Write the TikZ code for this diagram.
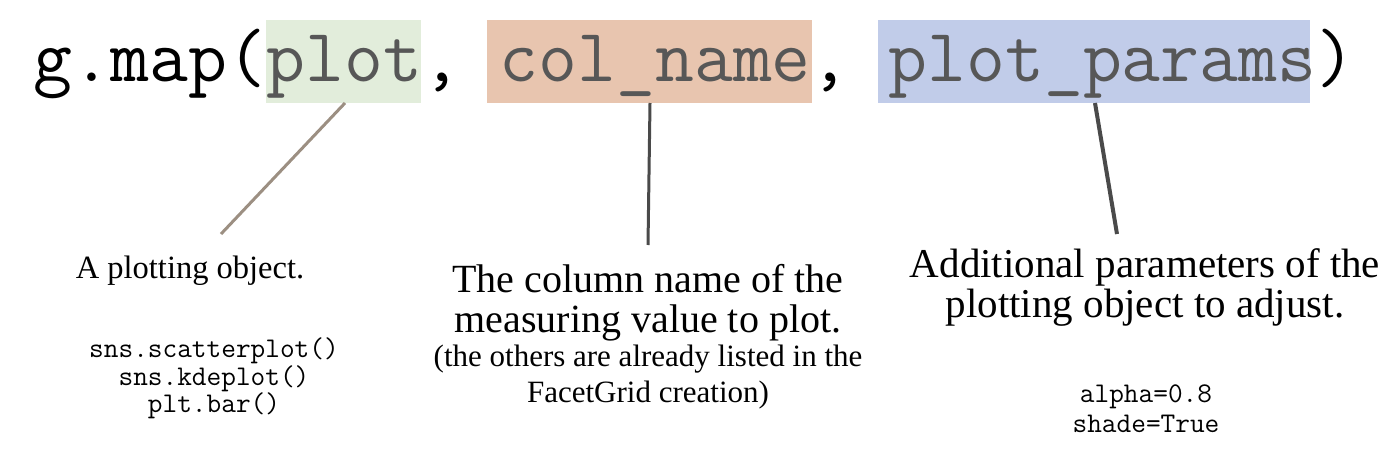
\documentclass[tikz,border=0pt]{standalone}
\usepackage{fontspec}
\setmainfont{Liberation Serif}
\newfontfamily\codefont{Latin Modern Mono}
\definecolor{boxgreen}{HTML}{E2EDDB}
\definecolor{boxorange}{HTML}{E8C5AF}
\definecolor{boxblue}{HTML}{C1CCE9}
\definecolor{codegray}{HTML}{575757}
\definecolor{lineGreen}{HTML}{9C8F82}
\definecolor{lineDark}{HTML}{4A4A4A}
\begin{document}
\begin{tikzpicture}[x=1pt,y=-1pt,
  hlbox/.style={draw=none,inner sep=0,anchor=north west},
  bigcode/.style={inner sep=0,anchor=base west,font=\codefont\fontsize{75.5}{75.5}\selectfont},
  smallcode/.style={inner sep=0,anchor=base,font=\codefont\fontsize{28.5}{28.5}\selectfont},
  desc/.style={inner sep=0,anchor=base,font=\fontsize{40}{40}\selectfont},
  note/.style={inner sep=0,anchor=base,font=\fontsize{31}{31}\selectfont},
  pointer/.style={line width=3pt}
]
\useasboundingbox (0,0) rectangle (1400,455);
% highlight boxes
\node[hlbox,fill=boxgreen,minimum width=155pt,minimum height=83pt] (plotbox) at (266,20) {};
\node[hlbox,fill=boxorange,minimum width=325pt,minimum height=83pt] (colbox) at (487,20) {};
\node[hlbox,fill=boxblue,minimum width=432pt,minimum height=83pt] (parbox) at (878,20) {};
% code line
\node[bigcode] (code) at (33,81) {g.map(\textcolor{codegray}{plot}, \textcolor{codegray}{col\_name}, \textcolor{codegray}{plot\_params})};
% pointer end points
\coordinate (p1s) at (345,103);
\coordinate (p1e) at (221,234);
\coordinate (p2s) at (650,103);
\coordinate (p2e) at (648,245);
\coordinate (p3s) at (1095,103);
\coordinate (p3e) at (1117,234);
\draw[pointer,lineGreen] (p1s) -- (p1e);
\draw[pointer,lineDark] (p2s) -- (p2e);
\draw[pointer,lineDark,line width=4pt] (p3s) -- (p3e);
% descriptions
\node[desc,font=\fontsize{32.5}{32.5}\selectfont] (d1) at (190,278) {A plotting object.};
\node[desc] (d2a) at (648,292) {The column name of the};
\node[desc] (d2b) at (648,332) {measuring value to plot.};
\node[note] (d2c) at (648,366) {(the others are already listed in the};
\node[note] (d2d) at (648,402) {FacetGrid creation)};
\node[desc,font=\fontsize{41}{41}\selectfont] (d3a) at (1145,277) {Additional parameters of the};
\node[desc,font=\fontsize{41}{41}\selectfont] (d3b) at (1145,317) {plotting object to adjust.};
% code examples
\node[smallcode] (e1) at (214,357) {sns.scatterplot()};
\node[smallcode] (e2) at (214,385) {sns.kdeplot()};
\node[smallcode] (e3) at (214,412) {plt.bar()};
\node[smallcode] (e4) at (1146,402) {alpha=0.8};
\node[smallcode] (e5) at (1146,432) {shade=True};
\end{tikzpicture}
\end{document}
